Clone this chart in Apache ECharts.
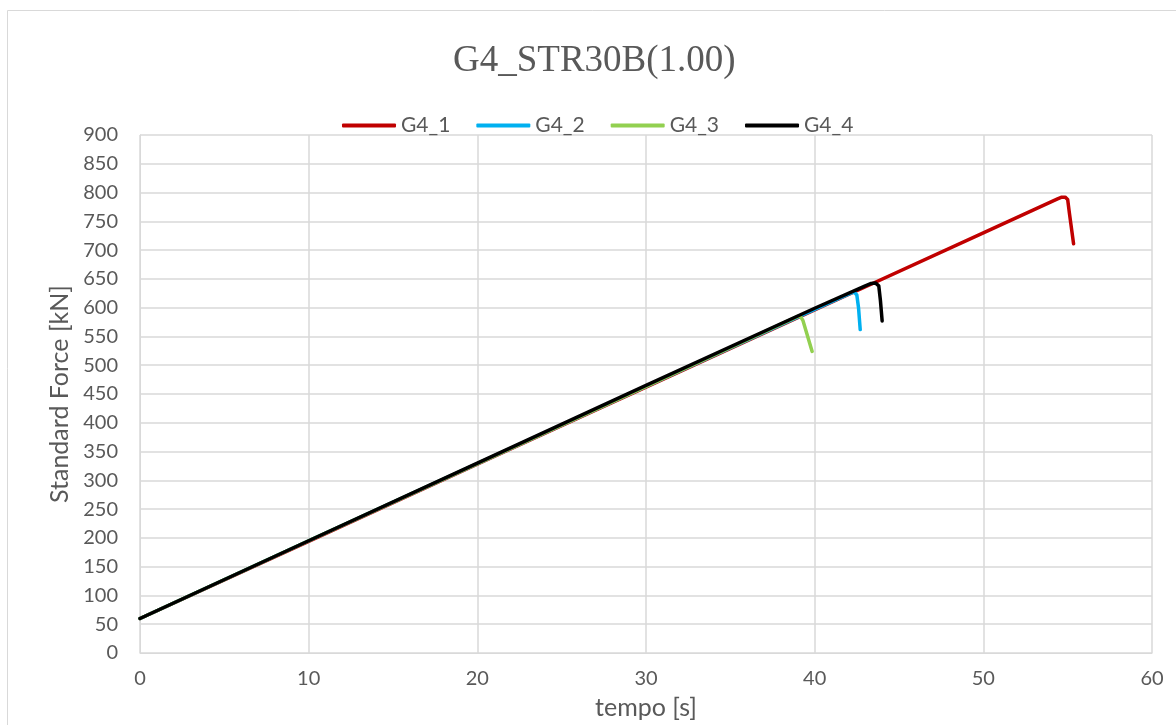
<!DOCTYPE html>
<html>
<head>
<meta charset="utf-8">
<script src="https://cdn.jsdelivr.net/npm/echarts@6/dist/echarts.min.js"></script>
<style>
  html, body { margin: 0; padding: 0; background: #fff; }
  #chart { width: 1176px; height: 725px; }
</style>
</head>
<body>
<div id="chart"></div>
<script>
// series data [tempo s, force kN]
const g4_1 = [[0, 60], [10, 194], [20, 328], [30, 462], [40, 596], [50, 730], [54.4, 789], [54.65, 792], [54.85, 792], [55.0, 788], [55.1, 765], [55.35, 711]];
const g4_2 = [[0, 60], [10, 195], [20, 329], [30, 463], [40, 597], [42.2, 626], [42.35, 627], [42.5, 622], [42.6, 600], [42.7, 562]];
const g4_3 = [[0, 60], [10, 195], [20, 329], [30, 463], [39.0, 585], [39.15, 585], [39.3, 578], [39.85, 524]];
const g4_4 = [[0, 60], [10, 195], [20, 330], [30, 465], [40, 599], [43.0, 638], [43.35, 642], [43.6, 643], [43.8, 638], [43.9, 612], [44.0, 577]];

const seriesNames = ["G4_1", "G4_2", "G4_3", "G4_4"];
const seriesColors = ["#c00000", "#00b0f0", "#92d050", "#000000"];
const seriesData = [g4_1, g4_2, g4_3, g4_4];

const chart = echarts.init(document.getElementById("chart"));
const txt = "#595959";
const grid = "#d9d9d9";

chart.setOption({
  animation: false,
  graphic: [{
    type: "rect",
    shape: { x: 7.5, y: 10.5, width: 1300, height: 900 },
    style: { fill: "none", stroke: grid, lineWidth: 1 }
  }],
  title: {
    text: "G4_STR30B(1.00)",
    left: 448,
    top: 38,
    textStyle: { fontFamily: "Liberation Serif", fontWeight: "normal", fontSize: 37, color: txt }
  },
  legend: {
    top: 110,
    left: 337,
    itemWidth: 54,
    itemHeight: 4,
    itemGap: 26,
    icon: "roundRect",
    textStyle: { fontFamily: "Lato", fontSize: 21, color: txt },
    data: seriesNames
  },
  grid: { left: 140, right: 24, top: 135, bottom: 71 },
  xAxis: {
    type: "value",
    min: 0, max: 60, interval: 10,
    name: "tempo [s]",
    nameLocation: "middle",
    nameGap: 42,
    nameTextStyle: { fontFamily: "Lato", fontSize: 25, color: txt },
    axisLine: { lineStyle: { color: grid } },
    axisTick: { show: false },
    axisLabel: { fontFamily: "Lato", fontSize: 20, color: txt, margin: 16 },
    splitLine: { lineStyle: { color: grid, width: 1.5 } }
  },
  yAxis: {
    type: "value",
    min: 0, max: 900, interval: 50,
    name: "Standard Force [kN]",
    nameLocation: "middle",
    nameGap: 66,
    nameTextStyle: { fontFamily: "Lato", fontSize: 25, color: txt },
    axisLine: { show: true, lineStyle: { color: grid } },
    axisTick: { show: false },
    axisLabel: { fontFamily: "Lato", fontSize: 20, color: txt, margin: 22 },
    splitLine: { lineStyle: { color: grid, width: 1.5 } }
  },
  series: seriesNames.map((name, i) => ({
    name: name,
    type: "line",
    data: seriesData[i],
    showSymbol: false,
    z: 2 + i,
    lineStyle: { color: seriesColors[i], width: 3.5, cap: "round", join: "round" },
    itemStyle: { color: seriesColors[i] }
  }))
});
</script>
</body>
</html>
